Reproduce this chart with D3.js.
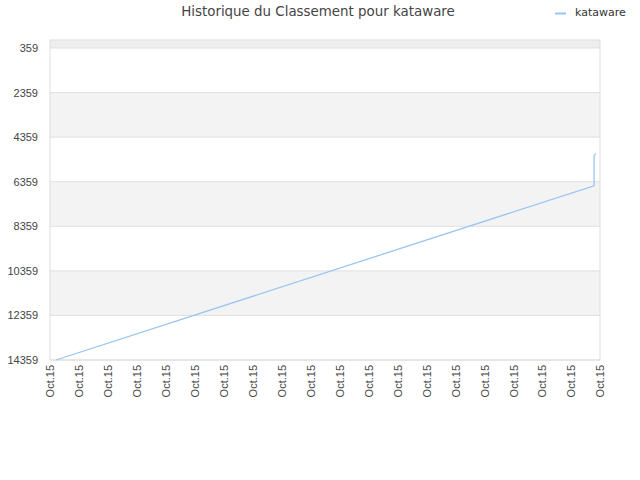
<!DOCTYPE html>
<html>
<head>
  <meta charset="utf-8">
  <title>Historique du Classement</title>
  <script src="https://d3js.org/d3.v7.min.js"></script>
  <style>
    body { margin: 0; background: #fff; }
    svg { font-family: "DejaVu Sans", sans-serif; }
    .tick text { fill: #444; font-size: 11px; }
  </style>
</head>
<body>
<div id="chart"></div>
<script>
// ===== data =====
const seriesName = "kataware";
// x in hours (all on Oct.15), y = rank
const timeVals = [0, 100, 100, 100, 100.3];
const rankVals = [14359, 6540, 5650, 5200, 5080];
const yTicks = [359, 2359, 4359, 6359, 8359, 10359, 12359, 14359];
const xTickLabels = d3.range(20).map(() => "Oct.15");

// ===== layout =====
const width = 640, height = 480;
const margin = { top: 40, right: 40, bottom: 120, left: 50 };
const w = width - margin.left - margin.right,
      h = height - margin.top - margin.bottom;

const svg = d3.select("#chart").append("svg")
    .attr("width", width)
    .attr("height", height);

const g = svg.append("g")
    .attr("transform", "translate(" + margin.left + "," + margin.top + ")");

const x = d3.scaleLinear().domain([-1.11, 101.1]).range([0, w]);
const y = d3.scaleLinear().domain([0, 14359]).range([0, h]);
const xBand = d3.scalePoint().domain(d3.range(xTickLabels.length)).range([0, w]);

// alternating bands
const bandEdges = [0].concat(yTicks);
for (let i = 0; i < bandEdges.length - 1; i++) {
  if (i % 2 === 1) continue;
  g.append("rect")
    .attr("x", 0)
    .attr("y", y(bandEdges[i]))
    .attr("width", w)
    .attr("height", y(bandEdges[i + 1]) - y(bandEdges[i]))
    .attr("fill", i === 0 ? "#eeeeee" : "#f3f3f3");
}

// horizontal grid lines
g.selectAll(".grid")
    .data(yTicks)
  .enter().append("line")
    .attr("x1", 0).attr("x2", w)
    .attr("y1", d => y(d)).attr("y2", d => y(d))
    .attr("stroke", "#e0e0e0");

// frame
g.append("rect")
  .attr("width", w).attr("height", h)
  .attr("fill", "none")
  .attr("stroke", "#dddddd");

// y axis
const yAxis = g.append("g")
  .call(d3.axisLeft(y).tickValues(yTicks).tickSize(0).tickPadding(12).tickFormat(d3.format("d")));
yAxis.select(".domain").remove();

// x axis
const xAxis = g.append("g")
  .attr("transform", "translate(0," + h + ")")
  .call(d3.axisBottom(xBand).tickSize(0).tickFormat(i => xTickLabels[i]));
xAxis.select(".domain").remove();
xAxis.selectAll("text")
  .attr("transform", "rotate(-90)")
  .attr("x", -5)
  .attr("y", 0)
  .attr("dy", "0.35em")
  .style("text-anchor", "end");

// line
const line = d3.line()
  .x((d, i) => x(timeVals[i]))
  .y(d => y(d));

g.append("path")
  .datum(rankVals)
  .attr("fill", "none")
  .attr("stroke", "#99c5f2")
  .attr("stroke-width", 1.3)
  .attr("d", line);

// title
svg.append("text")
  .attr("x", 318)
  .attr("y", 16)
  .attr("text-anchor", "middle")
  .attr("font-size", "13.4px")
  .attr("fill", "#444")
  .text("Historique du Classement pour " + seriesName);

// legend
svg.append("line")
  .attr("x1", 555).attr("x2", 566)
  .attr("y1", 13.5).attr("y2", 13.5)
  .attr("stroke", "#99c5f2")
  .attr("stroke-width", 2);
svg.append("text")
  .attr("x", 575)
  .attr("y", 16)
  .attr("font-size", "11px")
  .attr("fill", "#333")
  .text(seriesName);
</script>
</body>
</html>
